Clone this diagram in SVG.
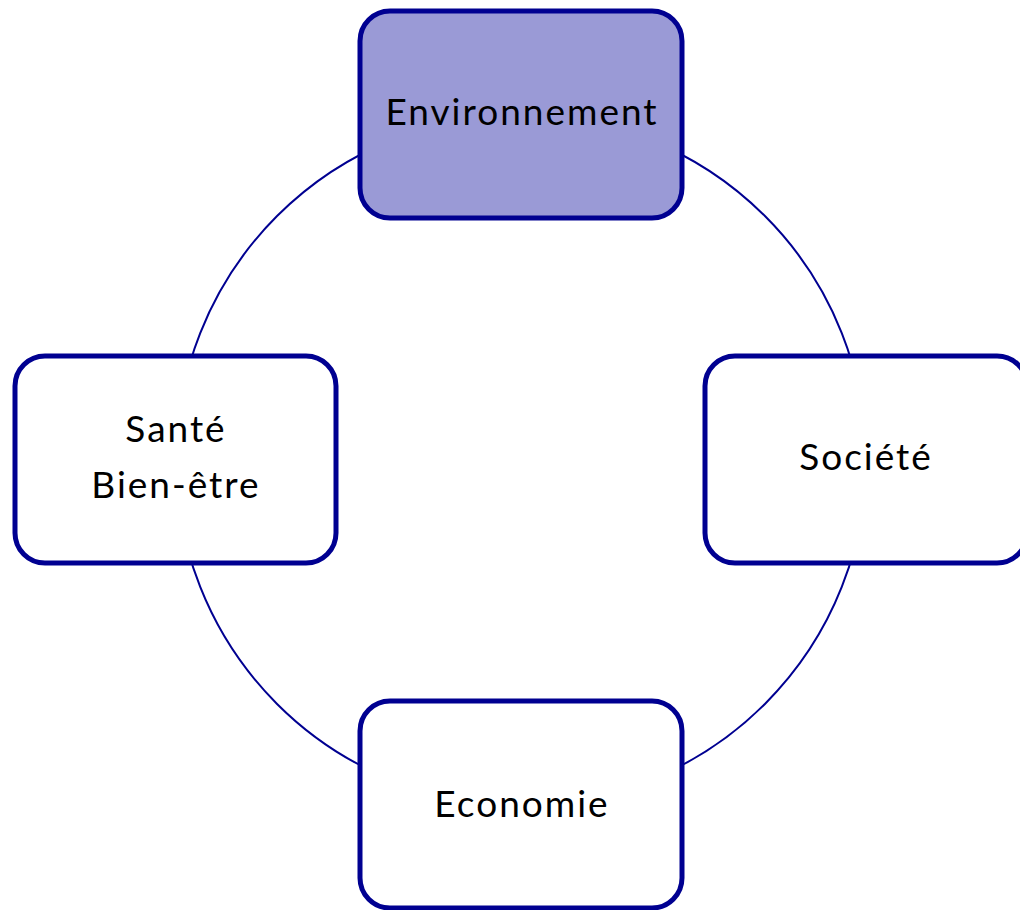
<svg xmlns="http://www.w3.org/2000/svg" width="1020" height="910" viewBox="0 0 1020 910">
<style>
.node rect{fill:#ffffff;stroke:#000091;stroke-width:5}
.node.active rect{fill:#9a9ad6}
.node text{font-family:"Lato","Noto Sans",sans-serif;font-size:37px;letter-spacing:2px;fill:#000000;text-anchor:middle}
.conn{fill:none;stroke:#000091;stroke-width:2}
</style>
<rect width="1020" height="910" fill="#ffffff"/>
<g id="connectors">
<circle class="conn" cx="521" cy="460" r="345"/>
</g>
<g id="environnement" class="node active">
<rect x="360" y="11" width="322" height="207" rx="30"/>
<text x="522" y="125">Environnement</text>
</g>
<g id="societe" class="node">
<rect x="705" y="356" width="322" height="207" rx="30"/>
<text x="866" y="470">Société</text>
</g>
<g id="economie" class="node">
<rect x="360" y="701" width="322" height="207" rx="30"/>
<text x="522" y="817">Economie</text>
</g>
<g id="sante" class="node">
<rect x="15" y="356" width="321" height="207" rx="30"/>
<text x="176" y="442">Santé</text>
<text x="176" y="498">Bien-être</text>
</g>
</svg>
